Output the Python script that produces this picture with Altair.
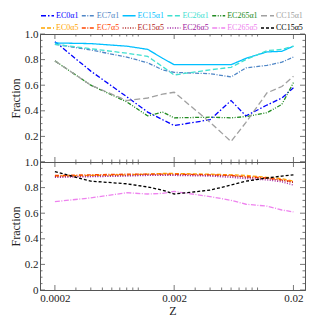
import altair as alt
import pandas as pd

Z = [0.0002, 0.0004, 0.0008, 0.0012, 0.0016, 0.002, 0.004, 0.006, 0.008, 0.012, 0.016, 0.02]

names = ["EC0α1", "EC7α1", "EC15α1", "EC26α1", "EC265α1", "CC15α1",
         "EC0α5", "EC7α5", "EC15α5", "EC26α5", "EC265α5", "CC15α5"]
colors = ["#0000ff", "#4f86c6", "#00bfff", "#40e0d0", "#228b22", "#a0a0a0",
          "#ffa500", "#ff4500", "#b22222", "#a020a0", "#ee82ee", "#000000"]
dashes = [[5, 2, 1.5, 2], [4, 1.5, 1, 1.5], [1, 0], [5, 2.5], [4, 1.5, 1, 1.5, 1, 1.5], [6, 3],
          [4, 2], [4, 1.5, 1, 1.5], [1, 1.5], [1, 1.5], [5, 1.5, 1, 1.5], [3, 2]]

EC0a1 = [0.94, 0.71, 0.51, 0.39, 0.33, 0.285, 0.33, 0.48, 0.36, 0.445, 0.50, 0.58]
EC7a1 = [0.92, 0.875, 0.82, 0.775, 0.72, 0.70, 0.69, 0.665, 0.735, 0.755, 0.78, 0.82]
EC15a1 = [0.93, 0.925, 0.905, 0.88, 0.81, 0.76, 0.76, 0.76, 0.81, 0.86, 0.865, 0.905]
EC26a1 = [0.92, 0.885, 0.85, 0.825, 0.745, 0.68, 0.72, 0.74, 0.80, 0.87, 0.88, 0.905]
EC265a1 = [0.79, 0.60, 0.47, 0.36, 0.39, 0.345, 0.35, 0.345, 0.355, 0.385, 0.45, 0.62]
CC15a1 = [0.79, 0.60, 0.48, 0.50, 0.53, 0.545, 0.31, 0.16, 0.31, 0.54, 0.59, 0.67]

EC0a5 = [0.89, 0.895, 0.90, 0.905, 0.91, 0.91, 0.905, 0.90, 0.895, 0.88, 0.87, 0.85]
EC7a5 = [0.895, 0.90, 0.905, 0.905, 0.905, 0.905, 0.90, 0.895, 0.885, 0.875, 0.86, 0.845]
EC15a5 = [0.885, 0.89, 0.895, 0.90, 0.90, 0.90, 0.895, 0.89, 0.88, 0.87, 0.855, 0.84]
EC26a5 = [0.88, 0.885, 0.89, 0.895, 0.895, 0.895, 0.89, 0.88, 0.87, 0.86, 0.845, 0.82]
EC265a5 = [0.69, 0.72, 0.76, 0.75, 0.755, 0.77, 0.73, 0.70, 0.67, 0.655, 0.625, 0.61]
CC15a5 = [0.925, 0.85, 0.83, 0.805, 0.78, 0.75, 0.78, 0.82, 0.85, 0.875, 0.89, 0.90]

x_major = [0.0002, 0.002, 0.02]
x_minor = [0.0003, 0.0004, 0.0005, 0.0006, 0.0007, 0.0008, 0.0009, 0.001,
           0.003, 0.004, 0.005, 0.006, 0.007, 0.008, 0.009, 0.01]
y_major = [0.0, 0.2, 0.4, 0.6, 0.8, 1.0]
y_minor = [0.05, 0.1, 0.15, 0.25, 0.3, 0.35, 0.45, 0.5, 0.55, 0.65, 0.7, 0.75, 0.85, 0.9, 0.95]

top_series = {"EC0α1": EC0a1, "EC7α1": EC7a1, "EC15α1": EC15a1, "EC26α1": EC26a1,
              "EC265α1": EC265a1, "CC15α1": CC15a1}
bot_series = {"EC0α5": EC0a5, "EC7α5": EC7a5, "EC15α5": EC15a5, "EC26α5": EC26a5,
              "EC265α5": EC265a5, "CC15α5": CC15a5}


def long(d):
    rows = []
    for k, vals in d.items():
        for z, v in zip(Z, vals):
            rows.append({"Z": z, "Fraction": v, "series": k})
    return pd.DataFrame(rows)


W = 265
H = 128
LH = 25
FRAME = "#555555"
FONT = "Liberation Serif"
LFS = 8

xscale = alt.Scale(type="log", domain=[0.00015, 0.025], nice=False)
yscale = alt.Scale(domain=[0, 1], nice=False)

color = alt.Color("series:N", scale=alt.Scale(domain=names, range=colors), legend=None)
dash = alt.StrokeDash("series:N", scale=alt.Scale(domain=names, range=dashes), legend=None)


def panel(d, xaxis, yaxis):
    X = alt.X("Z:Q", scale=xscale, axis=xaxis)
    Y = alt.Y("Fraction:Q", scale=yscale, axis=yaxis)
    lines = alt.Chart(long(d)).mark_line(strokeWidth=1.3, clip=True).encode(
        x=X, y=Y, color=color, strokeDash=dash
    )
    layers = [lines]
    for vals, ln in ((x_major, 5), (x_minor, 2.5)):
        src = alt.Chart(pd.DataFrame({"Z": vals})).mark_rule(color=FRAME, strokeWidth=0.8)
        layers.append(src.encode(x=X, y=alt.value(0), y2=alt.value(ln)))
        layers.append(src.encode(x=X, y=alt.value(H), y2=alt.value(H - ln)))
    for vals, ln in ((y_major, 5), (y_minor, 2.5)):
        src = alt.Chart(pd.DataFrame({"Fraction": vals})).mark_rule(color=FRAME, strokeWidth=0.8)
        layers.append(src.encode(y=Y, x=alt.value(0), x2=alt.value(ln)))
        layers.append(src.encode(y=Y, x=alt.value(W), x2=alt.value(W - ln)))
    return alt.layer(*layers).properties(width=W, height=H)


# legend built from the series names (two rows of six)
leg_df = pd.DataFrame({
    "series": names,
    "row": [i // 6 for i in range(len(names))],
    "col": [i % 6 for i in range(len(names))],
})
leg_base = (
    alt.Chart(leg_df)
    .transform_calculate(w=f"13 + 2 + {LFS} * (0.5 * length(datum.series) + 0.35) + 3")
    .transform_window(cum="sum(w)", groupby=["row"], sort=[{"field": "col"}])
    .transform_calculate(start="datum.cum - datum.w + 1", s2="datum.cum - datum.w + 14",
                         tx="datum.cum - datum.w + 16")
)
lx = alt.Scale(domain=[0, W], nice=False, zero=False)
ly = alt.Scale(domain=[1.5, -0.55], nice=False, zero=False)
leg_sym = leg_base.mark_rule(strokeWidth=1.5).encode(
    x=alt.X("start:Q", scale=lx, axis=None), x2="s2:Q",
    y=alt.Y("row:Q", scale=ly, axis=None), color=color, strokeDash=dash,
)
leg_txt = leg_base.mark_text(align="left", baseline="middle", font=FONT, fontSize=LFS).encode(
    x=alt.X("tx:Q", scale=lx, axis=None),
    y=alt.Y("row:Q", scale=ly, axis=None), text="series:N", color=color,
)
legend_chart = alt.layer(leg_sym, leg_txt).properties(
    width=W, height=LH, view=alt.ViewBackground(stroke="transparent")
)

top = panel(
    top_series,
    alt.Axis(title=None, labels=False, ticks=False),
    alt.Axis(title="Fraction", values=[0.2, 0.4, 0.6, 0.8, 1.0], format=".1f"),
)
bottom = panel(
    bot_series,
    alt.Axis(title="Z", values=x_major, format="~g"),
    alt.Axis(title="Fraction", values=y_major,
             labelExpr="datum.value == 0 ? '0' : format(datum.value, '.1f')"),
)

chart = (
    alt.vconcat(legend_chart, top, bottom, spacing=0, bounds="flush")
    .resolve_scale(x="independent", y="independent", color="shared", strokeDash="shared")
    .properties(padding={"left": 0, "top": 0, "right": 0, "bottom": 0})
    .configure_view(stroke=FRAME, strokeWidth=1)
    .configure_axis(
        labelFont=FONT, titleFont=FONT, labelFontSize=11, titleFontSize=12,
        titleFontWeight="normal", labelColor="#222222", titleColor="#222222",
        domainColor=FRAME, ticks=False, grid=False, labelPadding=2, titlePadding=2,
    )
    .configure_concat(spacing=0)
)

chart.save("out.html", embed_options={"renderer": "svg", "actions": False})
